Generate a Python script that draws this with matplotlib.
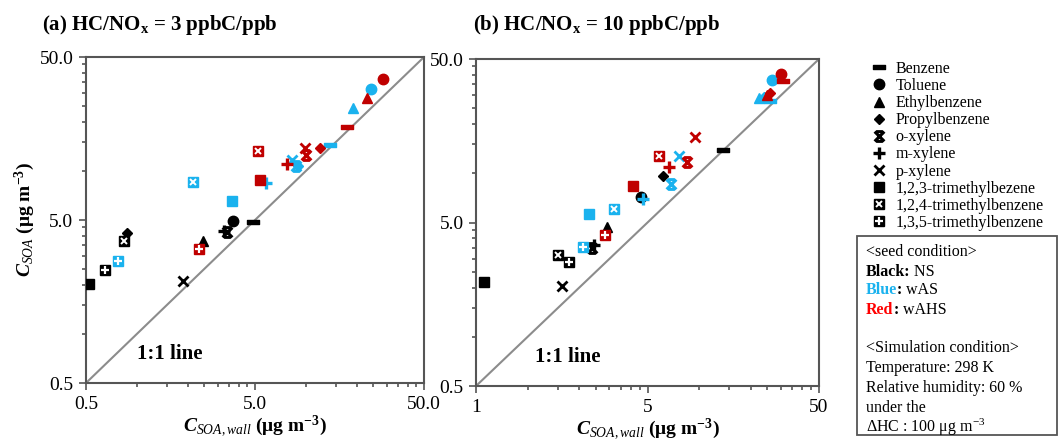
import numpy as np
import matplotlib
matplotlib.use("Agg")
from matplotlib import pyplot as plt
from matplotlib.path import Path
from matplotlib.lines import Line2D
from matplotlib.patches import Rectangle

plt.rcParams['font.family'] = ['Liberation Serif', 'DejaVu Serif']
plt.rcParams['mathtext.fontset'] = 'custom'
plt.rcParams['mathtext.rm'] = 'Liberation Serif'
plt.rcParams['mathtext.it'] = 'Liberation Serif:italic'
plt.rcParams['mathtext.bf'] = 'Liberation Serif:bold'
plt.rcParams['mathtext.bfit'] = 'Liberation Serif:italic:bold'

species = ["Benzene", "Toluene", "Ethylbenzene", "Propylbenzene", "o-xylene", "m-xylene",
           "p-xylene", "1,2,3-trimethylbezene", "1,2,4-trimethylbenzene", "1,3,5-trimethylbenzene"]

# (a) HC/NOx = 3
a_ns_x = [4.84, 3.69, 2.47, 0.87, 3.40, 3.26, 1.88, 0.52, 0.84, 0.65]
a_ns_y = [4.84, 4.95, 3.72, 4.18, 4.24, 4.30, 2.11, 2.02, 3.73, 2.47]
a_was_x = [13.8, 24.2, 19.1, 8.98, 8.74, 5.81, 8.28, 3.64, 2.14, 0.77]
a_was_y = [14.4, 31.8, 24.5, 10.7, 10.7, 8.40, 11.7, 6.54, 8.59, 2.81]
a_wahs_x = [17.6, 28.7, 23.1, 12.2, 10.0, 7.76, 9.9, 5.35, 5.23, 2.34]
a_wahs_y = [18.5, 36.6, 28.1, 13.9, 12.5, 11.1, 13.9, 8.8, 13.3, 3.32]

# (b) HC/NOx = 10
b_ns_x = [13.7, 4.56, 2.92, 6.13, 2.36, 2.44, 1.58, 0.557, 1.50, 1.74]
b_ns_y = [13.9, 7.19, 4.71, 9.67, 3.48, 3.64, 2.05, 2.17, 3.16, 2.88]
b_was_x = [25.9, 26.5, 22.4, 23.9, 6.83, 4.73, 7.67, 2.28, 3.19, 2.10]
b_was_y = [27.8, 37.2, 28.8, 29.4, 8.60, 6.96, 12.75, 5.61, 6.02, 3.56]
b_wahs_x = [31.0, 29.9, 25.0, 25.9, 8.46, 6.67, 9.46, 4.13, 5.84, 2.83]
b_wahs_y = [36.8, 40.5, 30.0, 31.1, 11.7, 10.9, 16.6, 8.36, 12.75, 4.19]

black, blue, red = "#000000", "#1AB2EE", "#C00000"

# custom markers: a flat bar for benzene, a capped X for o-xylene
bar = Path([(-1, -0.3), (1, -0.3), (1, 0.3), (-1, 0.3), (-1, -0.3)],
           [Path.MOVETO, Path.LINETO, Path.LINETO, Path.LINETO, Path.CLOSEPOLY])
capped_x = Path([(-1, -1), (1, 1), (-1, 1), (1, -1), (-0.7, 1), (0.7, 1), (-0.7, -1), (0.7, -1)],
                [Path.MOVETO, Path.LINETO] * 4)


def marker_kw(i, c):
    styles = [
        dict(marker=bar, ms=9),
        dict(marker='o', ms=7.5),
        dict(marker='^', ms=6.5),
        dict(marker='D', ms=5),
        dict(marker=capped_x, ms=7, mew=2.2),
        dict(marker='+', ms=8, mew=2.4),
        dict(marker='x', ms=7, mew=2.0),
        dict(marker='s', ms=7.5),
        dict(marker='s', ms=7.5),
        dict(marker='s', ms=7.5),
    ]
    kw = dict(styles[i])
    kw.update(color=c, mfc=c, mec=c, ls='none')
    return kw


def overlay_kw(i):
    # white glyph drawn on top of the square for the 1,2,4- and 1,3,5- isomers
    if i == 8:
        return dict(marker='x', ms=4.5, mew=1.4, color='white', ls='none')
    if i == 9:
        return dict(marker='+', ms=6, mew=1.6, color='white', ls='none')
    return None


def draw(ax, xs, ys, c):
    for i in range(len(species)):
        ax.plot(xs[i], ys[i], zorder=3, **marker_kw(i, c))
        ov = overlay_kw(i)
        if ov:
            ax.plot(xs[i], ys[i], zorder=4, **ov)


fig = plt.figure(figsize=(10.59, 4.41), dpi=100)
ax1 = fig.add_axes([0.0812, 0.1315, 0.3192, 0.7392])
ax2 = fig.add_axes([0.4495, 0.1247, 0.3239, 0.7415])

major = [0.5, 5, 50]
minor = list(np.arange(1, 5, 0.5)) + list(np.arange(10, 50, 5))

for ax, xl, lx in [(ax1, ['0.5', '5.0', '50.0'], 0.151), (ax2, ['1', '5', '50'], 0.172)]:
    ax.set_xscale('log')
    ax.set_yscale('log')
    ax.set_xlim(0.5, 50)
    ax.set_ylim(0.5, 50)
    ax.plot([0.5, 50], [0.5, 50], color='#8c8c8c', lw=1.5, zorder=2)
    ax.set_xticks(major)
    ax.set_xticks(minor, minor=True)
    ax.set_yticks(major)
    ax.set_yticks(minor, minor=True)
    ax.set_xticklabels(xl)
    ax.set_yticklabels(['0.5', '5.0', '50.0'])
    ax.xaxis.set_minor_formatter(plt.NullFormatter())
    ax.yaxis.set_minor_formatter(plt.NullFormatter())
    ax.tick_params(which='major', direction='out', length=5, width=1.2, labelsize=14, color='#555555', pad=4)
    ax.tick_params(which='minor', direction='out', length=3, width=1.2, color='#555555')
    for s in ax.spines.values():
        s.set_color('#555555')
        s.set_linewidth(1.5)
    ax.set_xlabel(r'$\mathbfit{C}_{\mathit{SOA,wall}}$ ($\mathbf{\mu}$g m$^{\mathbf{-3}}$)', fontsize=14,
                  fontweight='bold', labelpad=1)
    ax.text(lx, 0.088, '1:1 line', transform=ax.transAxes, fontsize=15, fontweight='bold', va='center')

ax1.set_ylabel(r'$\mathbfit{C}_{\mathit{SOA}}$ ($\mathbf{\mu}$g m$^{\mathbf{-3}}$)', fontsize=14,
               fontweight='bold', labelpad=2)

draw(ax1, a_ns_x, a_ns_y, black)
draw(ax1, a_was_x, a_was_y, blue)
draw(ax1, a_wahs_x, a_wahs_y, red)
draw(ax2, b_ns_x, b_ns_y, black)
draw(ax2, b_was_x, b_was_y, blue)
draw(ax2, b_wahs_x, b_wahs_y, red)

fig.text(0.040, 0.943, r'(a) HC/NO$_\mathbf{x}$ = 3 ppbC/ppb', fontsize=15, fontweight='bold', va='center')
fig.text(0.447, 0.943, r'(b) HC/NO$_\mathbf{x}$ = 10 ppbC/ppb', fontsize=15, fontweight='bold', va='center')

# species legend (black symbols)
handles = []
for i in range(len(species)):
    h = Line2D([], [], **marker_kw(i, black))
    ov = overlay_kw(i)
    if ov:
        h = (h, Line2D([], [], **ov))
    handles.append(h)
fig.legend(handles, species, loc='upper left', bbox_to_anchor=(0.815, 0.88), frameon=False,
           fontsize=11.5, handlelength=1.0, handletextpad=0.55, labelspacing=0.07, borderpad=0)

# condition box
fig.patches.append(Rectangle((857 / 1059, 1 - 435 / 441), 200 / 1059, 199 / 441, transform=fig.transFigure,
                             fill=False, edgecolor='#555555', lw=1.3))
bx = 866 / 1059
rows = [252, 271.7, 290.5, 310, 348, 368.5, 388, 408, 428]
fs = 11.5


def chain(y, parts):
    # pieces of one line, each placed right after the previous one
    t = fig.text(bx, 1 - (y + 4) / 441, parts[0][0], fontsize=fs, va='baseline', **parts[0][1])
    for txt, kw in parts[1:]:
        t = fig.add_artist(plt.Annotation(txt, xy=(1, 0), xycoords=t, va='bottom', ha='left',
                                          fontsize=fs, **kw))
    return t


chain(rows[0], [('<seed condition>', {})])
chain(rows[1], [('Black:', dict(fontweight='bold')), (' NS', {})])
chain(rows[2], [('Blue', dict(fontweight='bold', color='#1AB2EE')), (':', dict(fontweight='bold')), (' wAS', {})])
chain(rows[3], [('Red', dict(fontweight='bold', color='#FF0000')), (':', dict(fontweight='bold')), (' wAHS', {})])
chain(rows[4], [('<Simulation condition>', {})])
chain(rows[5], [('Temperature: 298 K', {})])
chain(rows[6], [('Relative humidity: 60 %', {})])
chain(rows[7], [('under the', {})])
chain(rows[8], [(r'ΔHC : 100 μg m$^{-3}$', {})])

plt.savefig('out.png', dpi=100)
plt.close()
